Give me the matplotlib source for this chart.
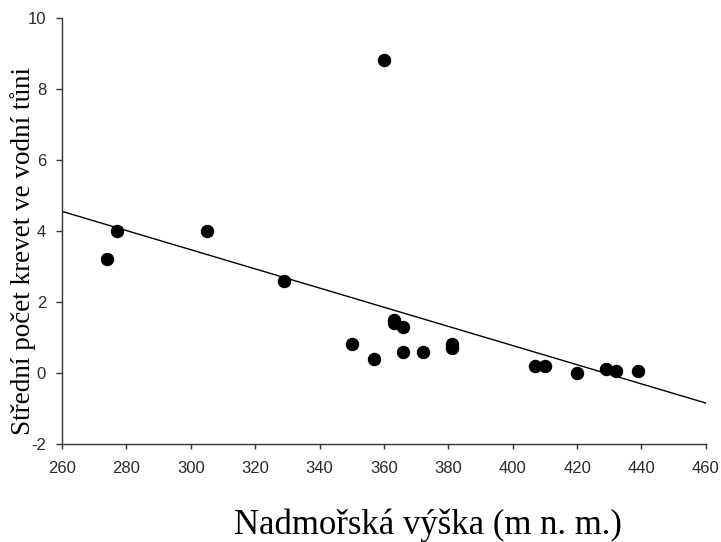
import numpy as np
import matplotlib.pyplot as plt

plt.rcParams['axes.unicode_minus'] = False

# nadmorska vyska a stredni pocet krevet
vyska = [274, 277, 305, 329, 350, 357, 360, 363, 363, 366, 366, 372,
         381, 381, 407, 410, 420, 429, 432, 439]
krevety = [3.2, 4.0, 4.0, 2.6, 0.8, 0.4, 8.8, 1.5, 1.4, 1.3, 0.6, 0.6,
           0.8, 0.7, 0.2, 0.2, 0.0, 0.1, 0.05, 0.05]

# regresni primka - koncove body
primka_x = [260, 460]
primka_y = [4.55, -0.85]

x_ticks = list(range(260, 461, 20))
y_ticks = list(range(-2, 11, 2))

fig = plt.figure(figsize=(7.21, 5.42), dpi=100)
ax = fig.add_axes([0.086, 0.181, 0.893, 0.786])

ax.plot(primka_x, primka_y, color="black", linewidth=1.0)
ax.scatter(vyska, krevety, s=75, color="black", zorder=3)

ax.set_xlim(260, 460)
ax.set_ylim(-2, 10)
ax.set_xticks(x_ticks)
ax.set_yticks(y_ticks)

for s in ["top", "right"]:
    ax.spines[s].set_visible(False)
for s in ["left", "bottom"]:
    ax.spines[s].set_color("#333333")
    ax.spines[s].set_linewidth(1.0)

ax.tick_params(direction="out", width=1, color="#333333",
               labelsize=12, labelcolor="#2a2a2a")
for lab in ax.get_xticklabels() + ax.get_yticklabels():
    lab.set_family("Liberation Sans")
ax.tick_params(axis="x", length=3.5, pad=9)
ax.tick_params(axis="y", length=4.5, pad=7)

# popisky os (serifove pismo jako v originale)
fig.text(0.032, 0.536, "Střední počet krevet ve vodní tůni",
         family="Liberation Serif", fontsize=19.5, rotation=90,
         ha="center", va="center")
fig.text(0.593, 0.014, "Nadmořská výška (m n. m.)",
         family="Liberation Serif", fontsize=25, ha="center", va="baseline")

plt.savefig("out.png", dpi=100)
